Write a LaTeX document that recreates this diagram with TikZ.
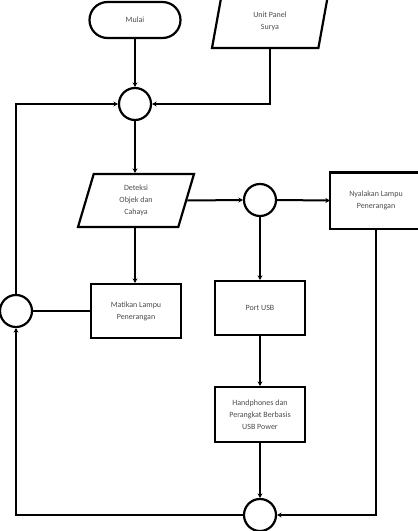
\documentclass[tikz,border=0pt]{standalone}
\usepackage{fontspec}
\setmainfont{Carlito}
\usetikzlibrary{shapes.geometric,arrows.meta}
\begin{document}
\begin{tikzpicture}[x=1pt,y=1pt,
  every node/.style={font=\fontsize{8}{12}\selectfont, text=black!70, align=center},
  box/.style={draw=black, line width=2.2pt, minimum width=90pt, minimum height=54pt, inner sep=1pt},
  term/.style={draw=black, line width=2.2pt, rounded corners=18pt, minimum width=91pt, minimum height=36pt},
  io/.style={draw=black, line width=2.2pt, trapezium, trapezium left angle=63, trapezium right angle=117,
    trapezium stretches body, minimum width=116pt, minimum height=53pt, inner sep=0pt},
  junc/.style={draw=black, line width=2.2pt, circle, minimum size=32pt, inner sep=0pt},
  conn/.style={line width=2pt, draw=black},
  arr/.style={conn, -{Stealth[length=4.5pt,width=5pt]}}
]
\useasboundingbox (0,0) rectangle (418,-531);
\clip (0,0) rectangle (418,-531);
\node[term] (mulai) at (135,-20) {Mulai};
\node[io] (panel) at (270,-21.5) {Unit Panel\\Surya};
\node[junc] (c1) at (135,-104) {};
\node[io] (det) at (136,-200.5) {Deteksi\\Objek dan\\Cahaya};
\node[junc] (c2) at (260,-200) {};
\node[box, draw=none, minimum width=100pt] (nyala) at (381,-200.5) {};
\draw[line width=2.2pt] (nyala.north east) -- (nyala.north west) -- (nyala.south west) -- (nyala.south east);
\node (nyalat) at (376,-200.5) {Nyalakan Lampu\\Penerangan};
\node[box] (mati) at (136,-311) {Matikan Lampu\\Penerangan};
\node[junc] (cl) at (16,-311) {};
\node[box] (usb) at (260,-308) {Port USB};
\node[box, minimum height=55pt] (hp) at (260,-414.5) {Handphones dan\\Perangkat Berbasis\\USB Power};
\node[junc] (cb) at (260,-515) {};
\coordinate (k1) at (270,-104);
\coordinate (k2) at (16,-104);
\coordinate (k3) at (376,-515);
\coordinate (k4) at (16,-515);

\draw[arr] (mulai.south) -- (c1.north);
\draw[arr] (panel.south -| k1) -- (k1) -- (c1.east);
\draw[arr] (cl.north) -- (k2) -- (c1.west);
\draw[arr] (c1.south) -- (det.north -| c1);
\draw[arr] (det.east) -- (c2.west);
\draw[arr] (c2.east) -- (nyala.west);
\draw[arr] (det.south -| c1) -- (mati.north -| c1);
\draw[conn] (mati.west) -- (cl.east);
\draw[arr] (c2.south) -- (usb.north);
\draw[arr] (usb.south) -- (hp.north);
\draw[arr] (hp.south) -- (cb.north);
\draw[arr] (nyala.south -| k3) -- (k3) -- (cb.east);
\draw[arr] (cb.west) -- (k4) -- (cl.south);
\end{tikzpicture}
\end{document}
